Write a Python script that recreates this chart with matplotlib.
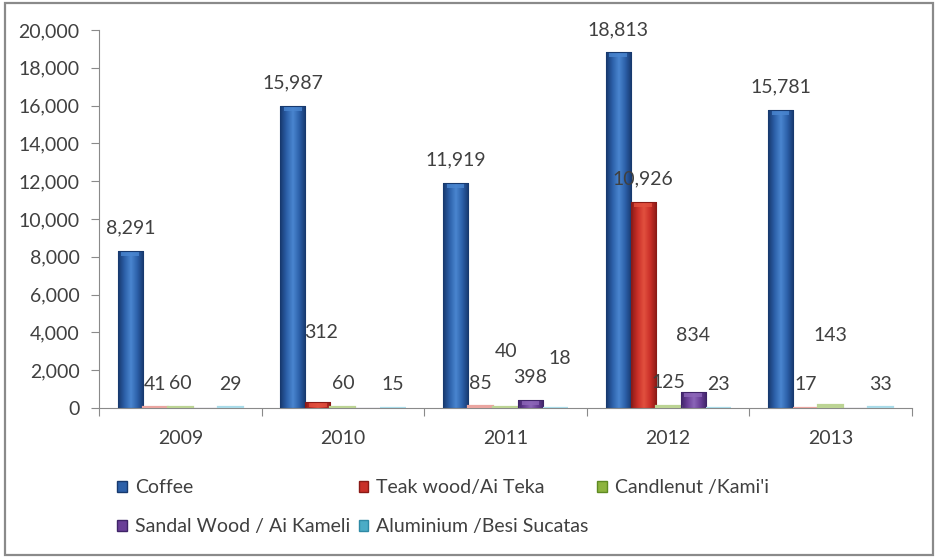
import numpy as np
import matplotlib.pyplot as plt
from matplotlib.patches import Patch, Rectangle
from matplotlib.colors import LinearSegmentedColormap

plt.rcParams['font.family'] = ['Lato', 'DejaVu Sans']

years = ['2009', '2010', '2011', '2012', '2013']
series_names = ['Coffee', 'Teak wood/Ai Teka', "Candlenut /Kami'i",
                'Sandal Wood / Ai Kameli', 'Aluminium /Besi Sucatas']
coffee = [8291, 15987, 11919, 18813, 15781]
teak = [41, 312, 85, 10926, 17]
candlenut = [60, 60, 40, 125, 143]
sandal = [0, 0, 398, 834, 0]
aluminium = [29, 15, 18, 23, 33]
series = [coffee, teak, candlenut, sandal, aluminium]

# (dark edge, face, highlight, pale tint for very low bars)
shades = [('#17396e', '#2c60a9', '#4a86d0', '#8fb0dc'),
          ('#8a1a16', '#c92f28', '#e2503f', '#eaa5a0'),
          ('#5f8a22', '#8db43e', '#a9cc5a', '#bcd494'),
          ('#3f2468', '#6a3f98', '#8c66b8', '#b9a3d4'),
          ('#2f8aa6', '#4bacc6', '#78c8dc', '#a9dbe9')]

# hand-placed label shifts (pixels) as in the original chart
label_shift = {(1, 1): (3, 47), (2, 2): (1, 33), (4, 2): (4, 26),
               (3, 3): (0, 34), (2, 4): (0, 47)}

text_col = '#404040'
fig = plt.figure(figsize=(9.37, 5.59), dpi=100)
ax = fig.add_axes([0.1057, 0.2701, 0.8676, 0.6762])
ax.set_xlim(-0.5, 4.5)
ax.set_ylim(0, 20000)
px = 20000 / 378  # data units per pixel

x = np.arange(len(years))
w = 0.154
grad = np.linspace(0, 1, 64).reshape(1, -1)
for k, vals in enumerate(series):
    dark, face, light, pale = shades[k]
    bars = ax.bar(x + (k - 2) * w, vals, w, facecolor='none', edgecolor=dark,
                  linewidth=0.8, zorder=3)
    cmap = LinearSegmentedColormap.from_list('g', [dark, face, light, face, dark])
    for i, rect in enumerate(bars):
        h = rect.get_height()
        if h <= 0:
            continue
        x0, bw = rect.get_x(), rect.get_width()
        if h < 4 * px:
            rect.set_facecolor(pale)
            rect.set_edgecolor(pale)
            rect.set_linewidth(1.6)
        else:
            im = ax.imshow(grad, extent=[x0, x0 + bw, 0, h], aspect='auto',
                           cmap=cmap, zorder=2)
            im.set_clip_path(rect)
            cap = Rectangle((x0 + bw * 0.15, h - 5 * px), bw * 0.7, 4 * px,
                            facecolor=light, alpha=0.8, edgecolor='none', zorder=2.5)
            ax.add_patch(cap)
        dx, dy = label_shift.get((k, i), (0, 0))
        ax.annotate(f'{h:,.0f}', (x0 + bw / 2, h),
                    xytext=(dx, 23 + dy), textcoords='offset pixels',
                    ha='center', va='center', fontsize=14, color=text_col)

ax.set_xlim(-0.5, 4.5)
ax.set_ylim(0, 20000)
ax.set_yticks(range(0, 20001, 2000))
ax.set_yticklabels([f'{v:,}' for v in range(0, 20001, 2000)])
ax.set_xticks(np.arange(-0.5, 4.6, 1))
ax.set_xticklabels([])
ax.set_xticks(x, minor=True)
ax.set_xticklabels(years, minor=True)
ax.tick_params(axis='x', which='minor', length=0, pad=16, labelsize=14, labelcolor=text_col)
ax.tick_params(axis='x', which='major', length=6, direction='out', color='#8a8a8a')
ax.tick_params(axis='y', length=6, direction='out', color='#8a8a8a', labelsize=14,
               labelcolor=text_col, pad=8)
for s in ['top', 'right']:
    ax.spines[s].set_visible(False)
for s in ['left', 'bottom']:
    ax.spines[s].set_color('#8a8a8a')

handles = [Patch(facecolor=shades[k][1], edgecolor=shades[k][0]) for k in range(5)]
order = [0, 3, 1, 4, 2]
fig.legend([handles[k] for k in order], [series_names[k] for k in order],
           loc='upper left', bbox_to_anchor=(0.125, 0.143), ncol=3, frameon=False,
           fontsize=14, labelcolor=text_col, handlelength=0.5, handleheight=0.5,
           handletextpad=0.4, columnspacing=0.45, labelspacing=1.15, borderpad=0,
           borderaxespad=0)

fig.patches.append(Rectangle((0.0053, 0.0072), 0.990, 0.9875, transform=fig.transFigure,
                             fill=False, edgecolor='#8a8a8a', linewidth=1.6))

fig.savefig('out.png', dpi=100)
